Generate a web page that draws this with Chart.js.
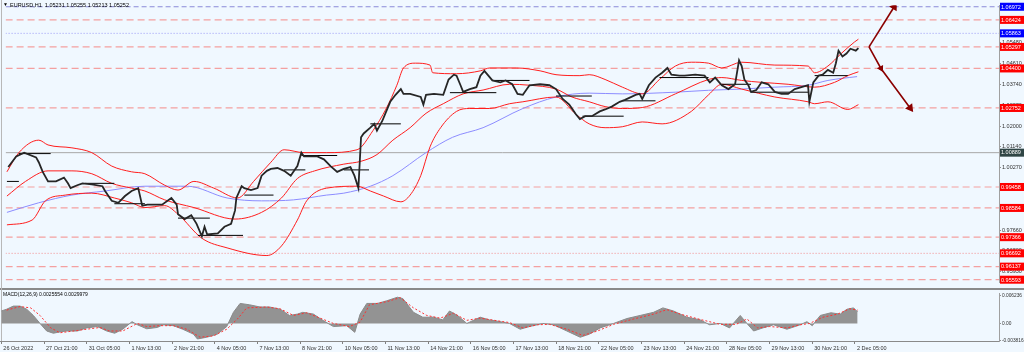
<!DOCTYPE html>
<html><head><meta charset="utf-8">
<script src="https://cdn.jsdelivr.net/npm/chart.js@4/dist/chart.umd.min.js"></script>
<style>
html,body{margin:0;padding:0;background:#f0f8ff;width:1024px;height:352px;overflow:hidden;position:relative;}
canvas{position:absolute;left:0;}
#c1{top:0;}
#c2{top:290px;}
.sep{position:absolute;background:#8a8a8a;}
</style></head><body>
<canvas id="c1" width="1024" height="288"></canvas>
<div class="sep" style="left:0;top:288px;width:1024px;height:2px;"></div>
<div class="sep" style="left:1px;top:0;width:1px;height:341px;background:#b8b8b8;"></div>
<canvas id="c2" width="1024" height="62"></canvas>
<script>
// ---------- data ----------
const symbolTitle = "EURUSD,H1  1.05231 1.05255 1.05213 1.05252";
const macdTitle = "MACD(12,26,9) 0.0025554 0.0029979";

const xTickBars = [0,32,64,96,128,160,192,224,256,288,320,352,384,416,448,480,512,544,576,608,640];
const xTickLabels = ["26 Oct 2022","27 Oct 21:00","31 Oct 05:00","1 Nov 13:00","2 Nov 21:00","4 Nov 05:00","7 Nov 13:00","8 Nov 21:00","10 Nov 05:00","11 Nov 13:00","14 Nov 21:00","16 Nov 05:00","17 Nov 13:00","18 Nov 21:00","22 Nov 05:00","23 Nov 13:00","24 Nov 21:00","28 Nov 05:00","29 Nov 13:00","30 Nov 21:00","2 Dec 05:00"];
const priceTicks = [1.0548,1.0461,1.0374,1.0287,1.0200,1.0114,1.0027,0.9940,0.9853,0.9766,0.9680,0.9593];
const macdTicks = [0.006236, 0, -0.003816];
const macdTickLabels = ["0.006236","0.00","-0.003816"];

const priceBar = [1,7,13,22,24,27,31,37,43,46,48,53,57,64,72,74,79,84,89,94,99,102,106,117,124,128,129,134,139,143,147,149,151,159,164,169,172,173,177,179,184,189,192,196,199,204,209,214,216,219,222,224,234,239,244,249,254,259,262,265,267,269,274,277,279,283,286,289,293,297,299,304,312,314,316,322,329,333,337,339,342,344,349,354,357,360,363,366,372,376,381,385,389,394,402,409,414,419,424,429,432,436,441,447,451,456,462,466,474,477,479,484,489,494,498,501,507,511,519,526,530,534,539,544,549,552,554,556,559,561,565,569,574,579,584,589,594,599,604,605,608,612,615,619,623,625,627,630,633,636,640,642];
const priceClose = [1.0029,1.0073,1.0089,1.0069,1.0049,1.0009,0.9969,0.9969,0.9985,0.9961,
0.9941,0.9953,0.9961,0.9957,0.9949,0.9929,0.9888,0.9880,0.9908,0.9929,
0.9941,0.9868,0.9872,0.9872,0.9900,0.9872,0.9832,0.9812,0.9828,0.9792,
0.9740,0.9780,0.9748,0.9752,0.9780,0.9792,0.9848,0.9900,0.9949,0.9941,
0.9933,0.9941,0.9993,1.0013,1.0021,1.0025,1.0013,0.9993,1.0009,1.0033,
1.0089,1.0073,1.0073,1.0061,1.0033,1.0009,1.0021,1.0029,0.9993,0.9941,
1.0153,1.0169,1.0193,1.0209,1.0181,1.0221,1.0261,1.0301,1.0330,1.0354,
1.0334,1.0334,1.0321,1.0289,1.0330,1.0334,1.0330,1.0394,1.0414,1.0410,
1.0370,1.0342,1.0354,1.0362,1.0410,1.0430,1.0410,1.0390,1.0382,1.0390,
1.0374,1.0334,1.0330,1.0370,1.0374,1.0370,1.0354,1.0313,1.0289,1.0249,
1.0229,1.0241,1.0241,1.0261,1.0269,1.0281,1.0301,1.0309,1.0330,1.0334,
1.0313,1.0370,1.0402,1.0422,1.0442,1.0414,1.0410,1.0410,1.0414,1.0410,
1.0382,1.0402,1.0370,1.0354,1.0374,1.0474,1.0450,1.0394,1.0370,1.0342,
1.0350,1.0382,1.0374,1.0342,1.0334,1.0334,1.0354,1.0362,1.0370,1.0301,
1.0382,1.0410,1.0414,1.0434,1.0422,1.0462,1.0514,1.0490,1.0502,1.0522,
1.0514,1.0525];

const upperBar = [0,9,24,31,49,64,79,94,104,119,129,141,156,174,186,199,209,224,241,264,276,286,294,299,308,319,321,339,357,364,384,402,414,432,439,451,464,479,492,504,516,529,539,554,579,604,609,619,629,639,642];
const upperVal = [1.0009,1.0089,1.0141,1.0121,1.0109,1.0089,1.0033,1.0009,1.0001,0.9953,0.9933,0.9969,0.9941,0.9900,0.9969,1.0049,1.0101,1.0089,1.0089,1.0101,1.0181,1.0273,1.0370,1.0442,1.0462,1.0454,1.0422,1.0418,1.0430,1.0442,1.0442,1.0430,1.0414,1.0410,1.0414,1.0394,1.0362,1.0334,1.0394,1.0450,1.0466,1.0462,1.0442,1.0466,1.0454,1.0450,1.0422,1.0450,1.0502,1.0550,1.0562];

const middleBar = [0,14,31,49,64,79,94,104,119,141,172,192,207,219,232,254,267,279,291,304,316,329,344,359,379,394,414,426,439,451,464,479,504,529,539,554,569,589,609,624,634,642];
const middleVal = [0.9908,0.9969,1.0013,1.0013,1.0001,0.9961,0.9941,0.9929,0.9892,0.9860,0.9812,0.9840,0.9900,0.9981,1.0013,1.0041,1.0053,1.0081,1.0141,1.0193,1.0253,1.0293,1.0334,1.0350,1.0374,1.0370,1.0354,1.0321,1.0301,1.0281,1.0273,1.0277,1.0334,1.0394,1.0402,1.0390,1.0382,1.0374,1.0362,1.0382,1.0410,1.0426];

const lowerBar = [0,19,29,44,64,81,94,104,119,129,147,166,196,207,219,226,241,264,274,284,297,304,312,319,327,339,349,364,379,389,414,429,439,451,464,479,494,516,529,539,554,579,604,609,619,634,642];
const lowerVal = [0.9788,0.9808,0.9888,0.9912,0.9920,0.9900,0.9880,0.9860,0.9868,0.9832,0.9732,0.9692,0.9660,0.9700,0.9808,0.9888,0.9941,0.9949,0.9929,0.9908,0.9884,0.9912,0.9993,1.0113,1.0193,1.0261,1.0273,1.0273,1.0293,1.0301,1.0321,1.0249,1.0209,1.0193,1.0197,1.0217,1.0209,1.0261,1.0330,1.0374,1.0354,1.0321,1.0301,1.0293,1.0301,1.0269,1.0289];

const maBar = [0,24,49,74,104,136,166,192,216,241,254,274,291,316,336,359,389,414,439,464,504,529,554,579,604,619,641];
const maVal = [0.9840,0.9880,0.9912,0.9929,0.9949,0.9949,0.9900,0.9888,0.9892,0.9912,0.9920,0.9949,0.9993,1.0089,1.0153,1.0193,1.0273,1.0321,1.0337,1.0334,1.0341,1.0349,1.0354,1.0362,1.0370,1.0390,1.0406];

const pivotStart = [0,9,59,81,129,144,179,209,222,254,274,334,366,414,434,464,492,539,561,609];
const pivotEnd   = [9,33,81,104,153,178,201,225,249,273,297,369,394,441,465,489,529,561,604,634];
const pivotPrice = [0.9969,1.0085,0.9961,0.9876,0.9816,0.9744,0.9912,1.0017,1.0077,1.0017,1.0209,1.0339,1.0390,1.0325,1.0241,1.0305,1.0402,1.0374,1.0341,1.0410];

const redLevels = [1.06424,1.05297,1.04400,1.02752,0.99458,0.98584,0.97366,0.96137,0.95593];
const blueLevels = [1.06972,1.05863];
const dottedRedLevels = [0.96692];
const greyLevels = [1.00889];

const arrowUpBar = [650,669];
const arrowUpPrice = [1.05297,1.06972];
const arrowDownBar = [650,659,681];
const arrowDownPrice = [1.05297,1.04400,1.02752];

const macdBar = [0,4,9,14,19,24,29,34,39,44,49,57,64,72,79,85,91,98,102,109,117,121,129,136,144,147,154,162,169,174,179,186,194,201,209,216,222,226,234,241,249,259,265,269,274,282,289,297,301,309,316,324,331,336,342,349,359,366,374,381,389,396,406,414,424,434,441,449,459,469,479,489,496,504,514,524,531,539,546,554,559,564,571,579,589,599,604,608,614,622,629,634,639,642];
const macdVal = [0.0028,0.0032,0.0039,0.0039,0.0032,0.0018,0.0000,-0.0017,-0.0022,-0.0019,-0.0017,-0.0017,-0.0010,-0.0007,-0.0017,-0.0022,-0.0013,0.0004,-0.0003,-0.0012,-0.0009,-0.0003,-0.0005,-0.0013,-0.0024,-0.0035,-0.0031,-0.0024,-0.0007,0.0025,0.0045,0.0042,0.0037,0.0037,0.0032,0.0018,0.0021,0.0025,0.0021,0.0007,-0.0007,-0.0005,-0.0020,0.0021,0.0045,0.0045,0.0051,0.0059,0.0056,0.0025,0.0014,0.0014,0.0008,0.0028,0.0018,0.0000,0.0014,0.0008,0.0004,0.0000,-0.0013,-0.0007,0.0000,-0.0003,-0.0017,-0.0031,-0.0024,-0.0010,0.0000,0.0011,0.0018,0.0025,0.0035,0.0028,0.0014,0.0008,-0.0003,0.0000,-0.0010,0.0018,0.0000,-0.0017,-0.0010,-0.0003,-0.0013,-0.0003,0.0004,-0.0005,0.0018,0.0024,0.0021,0.0032,0.0035,0.0026];

const signalBar = [4,14,22,29,37,44,59,74,81,91,102,109,119,129,139,149,159,169,177,184,199,209,219,229,239,249,261,269,276,289,299,309,319,329,339,349,359,374,381,391,402,411,424,436,447,459,474,489,499,509,524,539,551,559,567,576,589,599,606,616,627,636,642];
const signalVal = [0.0030,0.0038,0.0035,0.0018,-0.0010,-0.0021,-0.0015,-0.0009,-0.0017,-0.0017,0.0000,-0.0007,-0.0005,-0.0005,-0.0013,-0.0031,-0.0028,-0.0013,0.0010,0.0035,0.0037,0.0033,0.0018,0.0024,0.0012,0.0000,-0.0007,0.0003,0.0042,0.0049,0.0058,0.0035,0.0018,0.0012,0.0023,0.0007,0.0012,0.0005,0.0002,-0.0010,-0.0003,-0.0002,-0.0013,-0.0027,-0.0017,-0.0002,0.0010,0.0021,0.0031,0.0021,0.0009,-0.0002,-0.0002,0.0010,-0.0010,-0.0007,-0.0010,-0.0003,0.0000,0.0014,0.0021,0.0033,0.0030];

// ---------- helpers ----------
const X_MIN = -1, X_MAX = 748;
const FONT = "'Liberation Sans', Arial, sans-serif";
const pts = (xs, ys) => xs.map((x, i) => ({x: x, y: ys[i]}));
const hline = (v) => [{x: X_MIN, y: v}, {x: X_MAX, y: v}];
const base = {pointRadius: 0, borderWidth: 1, tension: 0, fill: false};

function arrowRotation(c) {
  const d = c.dataset.data, i = c.dataIndex;
  if (i === 0) return 0;
  const xs = c.chart.scales.x, ys = c.chart.scales.y;
  const dx = xs.getPixelForValue(d[i].x) - xs.getPixelForValue(d[i-1].x);
  const dy = ys.getPixelForValue(d[i].y) - ys.getPixelForValue(d[i-1].y);
  return Math.atan2(dx, -dy) * 180 / Math.PI;
}

const datasets = [];
datasets.push(Object.assign({}, base, {data: pts(arrowUpBar, arrowUpPrice), borderColor: '#8b0000', borderWidth: 1.6,
  pointRadius: [0, 3.5], pointStyle: 'triangle', pointRotation: arrowRotation, pointBackgroundColor: '#8b0000', pointBorderColor: '#8b0000'}));
datasets.push(Object.assign({}, base, {data: pts(arrowDownBar, arrowDownPrice), borderColor: '#8b0000', borderWidth: 1.6,
  pointRadius: [0, 2.5, 3.5], pointStyle: 'triangle', pointRotation: arrowRotation, pointBackgroundColor: '#8b0000', pointBorderColor: '#8b0000'}));
datasets.push(Object.assign({}, base, {data: pts(priceBar, priceClose), borderColor: '#262626', borderWidth: 1.8}));
pivotPrice.forEach((p, i) => datasets.push(Object.assign({}, base, {data: [{x: pivotStart[i], y: p}, {x: pivotEnd[i], y: p}], borderColor: '#000000', borderWidth: 1})));
[[upperBar, upperVal], [middleBar, middleVal], [lowerBar, lowerVal]].forEach(([b, v]) =>
  datasets.push(Object.assign({}, base, {data: pts(b, v), borderColor: '#ff1e1e', borderWidth: 1, cubicInterpolationMode: 'monotone'})));
datasets.push(Object.assign({}, base, {data: pts(maBar, maVal), borderColor: '#8c8cff', borderWidth: 1, cubicInterpolationMode: 'monotone'}));
redLevels.forEach(v => datasets.push(Object.assign({}, base, {data: hline(v), borderColor: '#f4a0a0', borderWidth: 1.2, borderDash: [7, 4]})));
dottedRedLevels.forEach(v => datasets.push(Object.assign({}, base, {data: hline(v), borderColor: '#f28c8c', borderWidth: 1, borderDash: [1, 2]})));
blueLevels.forEach((v, i) => datasets.push(Object.assign({}, base, {data: hline(v), borderColor: i === 0 ? '#8a8ad8' : '#9a9af5', borderWidth: 1, borderDash: i === 0 ? [5, 3] : [1, 2]})));
greyLevels.forEach(v => datasets.push(Object.assign({}, base, {data: hline(v), borderColor: '#a8a8a8', borderWidth: 1})));

const boxPlugin = {
  id: 'boxes',
  afterDraw(chart) {
    const ctx = chart.ctx, ca = chart.chartArea, ys = chart.scales.y;
    ctx.save();
    ctx.font = '5.5px ' + FONT;
    ctx.textBaseline = 'middle';
    ctx.textAlign = 'left';
    const draw = (v, col) => {
      let y = ys.getPixelForValue(v);
      let top = Math.max(0, Math.min(chart.height - 8, y - 4));
      ctx.fillStyle = col;
      ctx.fillRect(ca.right + 1, top, 24, 8);
      ctx.fillStyle = '#ffffff';
      ctx.fillText(v.toFixed(5), ca.right + 2, top + 4.3);
    };
    redLevels.forEach(v => draw(v, '#ff0000'));
    dottedRedLevels.forEach(v => draw(v, '#ff0000'));
    blueLevels.forEach(v => draw(v, '#0000ff'));
    greyLevels.forEach(v => draw(v, '#2f4545'));
    ctx.fillStyle = '#000000';
    ctx.font = '5px ' + FONT;
    ctx.fillText('\u25BC', 3, 5);
    ctx.font = '5.5px ' + FONT;
    ctx.fillText(symbolTitle, 10, 5);
    ctx.restore();
  }
};

new Chart(document.getElementById('c1'), {
  type: 'line',
  data: {datasets: datasets},
  options: {
    responsive: false, animation: false, devicePixelRatio: 1, events: [],
    layout: {padding: 0},
    plugins: {legend: {display: false}, tooltip: {enabled: false}},
    scales: {
      x: {type: 'linear', min: X_MIN, max: X_MAX, display: false},
      y: {type: 'linear', position: 'right', min: 0.9548, max: 1.0702,
        afterBuildTicks: s => { s.ticks = priceTicks.map(v => ({value: v})); },
        afterFit: s => { s.width = 25; },
        ticks: {callback: v => v.toFixed(5), font: {size: 5.5, family: FONT}, color: '#303030', padding: 1, autoSkip: false},
        grid: {drawOnChartArea: false, drawTicks: true, tickLength: 2, color: '#909090'},
        border: {display: true, color: '#a0a0a0'}}
    }
  },
  plugins: [boxPlugin]
});

const macdTitlePlugin = {
  id: 'mt',
  afterDraw(chart) {
    const ctx = chart.ctx;
    ctx.save();
    ctx.fillStyle = '#000000';
    ctx.font = '5px ' + FONT;
    ctx.textBaseline = 'middle';
    ctx.fillText(macdTitle, 3, 5);
    ctx.restore();
  }
};

new Chart(document.getElementById('c2'), {
  type: 'line',
  data: {datasets: [
    Object.assign({}, base, {data: pts(signalBar, signalVal), borderColor: '#ff3030', borderWidth: 1, borderDash: [2, 2]}),
    Object.assign({}, base, {data: pts(macdBar, macdVal), borderColor: '#8a8a8a', backgroundColor: '#939393', borderWidth: 1, fill: 'origin'})
  ]},
  options: {
    responsive: false, animation: false, devicePixelRatio: 1, events: [],
    layout: {padding: 0},
    plugins: {legend: {display: false}, tooltip: {enabled: false}},
    scales: {
      x: {type: 'linear', min: X_MIN, max: X_MAX, position: 'bottom',
        afterBuildTicks: s => { s.ticks = xTickBars.map(v => ({value: v})); },
        afterFit: s => { s.height = 11; },
        ticks: {callback: (v, i) => xTickLabels[i], align: 'start', labelOffset: 2, maxRotation: 0, autoSkip: false,
          font: {size: 5.5, family: FONT}, color: '#303030', padding: 1},
        grid: {drawOnChartArea: false, drawTicks: true, tickLength: 3, color: '#808080'},
        border: {display: true, color: '#8a8a8a'}},
      y: {type: 'linear', position: 'right', min: -0.00395, max: 0.00665,
        afterBuildTicks: s => { s.ticks = macdTicks.map(v => ({value: v})); },
        afterFit: s => { s.width = 25; },
        ticks: {callback: (v, i) => macdTickLabels[i], font: {size: 4.8, family: FONT}, color: '#303030', padding: 1, autoSkip: false},
        grid: {drawOnChartArea: false, drawTicks: true, tickLength: 2, color: '#909090'},
        border: {display: true, color: '#a0a0a0'}}
    }
  },
  plugins: [macdTitlePlugin]
});
</script>
</body></html>
